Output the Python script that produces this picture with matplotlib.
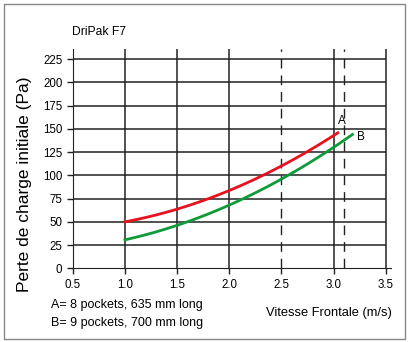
import matplotlib.pyplot as plt
from matplotlib.patches import Rectangle
import numpy as np

plt.rcParams['font.family'] = ['Liberation Sans', 'DejaVu Sans']

# curve A: 8 pockets, 635 mm long
vel_a = [1.0, 1.5, 2.0, 2.5, 3.0, 3.04]
dp_a = [50, 63.5, 84, 110, 141.5, 147]
# curve B: 9 pockets, 700 mm long
vel_b = [1.0, 1.5, 2.0, 2.5, 3.0, 3.18]
dp_b = [31, 45.5, 68, 97, 129, 144.5]

x_ticks = [0.5, 1.0, 1.5, 2.0, 2.5, 3.0, 3.5]
y_ticks = [0, 25, 50, 75, 100, 125, 150, 175, 200, 225]
solid_v = [1.0, 1.5, 2.0, 3.0, 3.5]
dashed_v = [2.5, 3.1]

fig = plt.figure(figsize=(4.09, 3.42), dpi=100)
ax = fig.add_axes([0.178, 0.2155, 0.778, 0.6415])

# smooth the curves with a quadratic fit through the read points
def smooth(xs, ys):
    c = np.polyfit(xs, ys, 2)
    xx = np.linspace(xs[0], xs[-1], 100)
    return xx, np.polyval(c, xx)

ax.set_xlim(0.5, 3.55)
ax.set_ylim(0, 236)

ax.hlines(y_ticks[1:], 0.5, 3.5, color='#222222', lw=1.1, zorder=1)
for v in solid_v:
    ax.axvline(v, color='#222222', lw=1.1, zorder=1)
for v in dashed_v:
    ax.axvline(v, color='#222222', lw=1.0, ls=(0, (7, 5)), zorder=1)

xa, ya = smooth(vel_a, dp_a)
xb, yb = smooth(vel_b, dp_b)
ax.plot(xa, ya, color='#e8121e', lw=2, zorder=3)
ax.plot(xb, yb, color='#0f9a3a', lw=2, zorder=3)
ax.text(3.08, 152, 'A', fontsize=8.5, ha='center', va='bottom')
ax.text(3.22, 141, 'B', fontsize=8.5, ha='left', va='center')

ax.set_xticks(x_ticks)
ax.set_xticklabels(['%.1f' % v for v in x_ticks])
ax.set_yticks(y_ticks)
ax.tick_params(labelsize=8.3, length=4, width=1, direction='out', color='#222222')
for s in ['top', 'right']:
    ax.spines[s].set_visible(False)
for s in ['left', 'bottom']:
    ax.spines[s].set_color('#222222')

fig.text(0.176, 0.905, 'DriPak F7', fontsize=8.7, ha='left', va='center')
fig.text(0.06, 0.462, 'Perte de charge initiale (Pa)', fontsize=12.5,
         rotation=90, ha='center', va='center')
fig.text(0.958, 0.085, 'Vitesse Frontale (m/s)', fontsize=9.3,
         ha='right', va='center')
fig.text(0.125, 0.108, 'A= 8 pockets, 635 mm long', fontsize=9,
         ha='left', va='center')
fig.text(0.125, 0.055, 'B= 9 pockets, 700 mm long', fontsize=9,
         ha='left', va='center')

fig.add_artist(Rectangle((0.01, 0.01), 0.98, 0.978, transform=fig.transFigure,
                         fill=False, edgecolor='#888888', lw=1))

fig.savefig('out.png', dpi=100)
